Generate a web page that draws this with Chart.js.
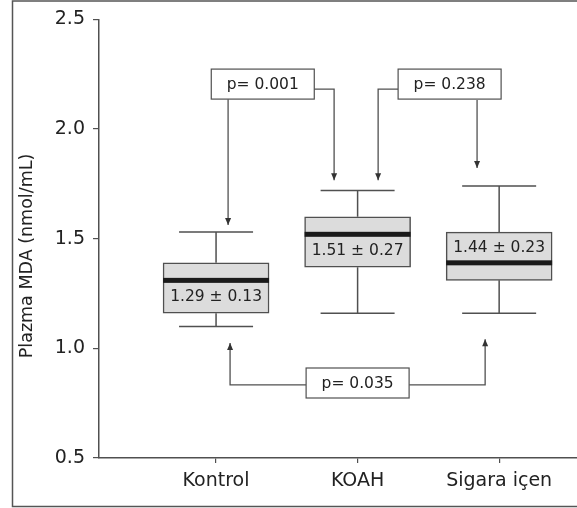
<!DOCTYPE html>
<html>
<head>
<meta charset="utf-8">
<script src="https://cdn.jsdelivr.net/npm/chart.js@4"></script>
<style>
  body { margin: 0; background: #fff; }
  #wrap { width: 577px; height: 508px; }
</style>
</head>
<body>
<div id="wrap"><canvas id="chart" width="577" height="508"></canvas></div>
<script>
// data
const categories = ['Kontrol', 'KOAH', 'Sigara içen'];
const whiskerLow = [1.10, 1.16, 1.16];
const q1 = [1.16, 1.37, 1.31];
const median = [1.31, 1.52, 1.39];
const q3 = [1.39, 1.60, 1.53];
const whiskerHigh = [1.53, 1.72, 1.74];
const meanSd = ['1.29 ± 0.13', '1.51 ± 0.27', '1.44 ± 0.23'];
const yTicks = [0.5, 1.0, 1.5, 2.0, 2.5];
const yTitle = 'Plazma MDA (nmol/mL)';

// p-value notes, positions in data units (x = category slot, y = value)
const pLabels = ['p= 0.001', 'p= 0.238', 'p= 0.035'];
const pCenters = [[1.33, 2.205], [2.65, 2.205], [2.0, 0.842]];
const pArrows = [
  [[1.085, 2.136], [1.085, 1.562]],
  [[1.692, 2.182], [1.834, 2.182], [1.834, 1.767]],
  [[2.286, 2.182], [2.145, 2.182], [2.145, 1.767]],
  [[2.844, 2.132], [2.844, 1.822]],
  [[1.636, 0.833], [1.099, 0.833], [1.099, 1.024]],
  [[2.364, 0.833], [2.901, 0.833], [2.901, 1.042]]
];

const FONT = "'DejaVu Sans', Verdana, sans-serif";
const LINE = '#505050';
const TEXT = '#222';
const BOX_W = 106;
const CAP_W = 74;

function arrowHead(ctx, x0, y0, x1, y1) {
  const a = Math.atan2(y1 - y0, x1 - x0);
  const len = 7, hw = 3;
  ctx.beginPath();
  ctx.moveTo(x1, y1);
  ctx.lineTo(x1 - len * Math.cos(a) + hw * Math.sin(a), y1 - len * Math.sin(a) - hw * Math.cos(a));
  ctx.lineTo(x1 - len * Math.cos(a) - hw * Math.sin(a), y1 - len * Math.sin(a) + hw * Math.cos(a));
  ctx.closePath();
  ctx.fill();
}

const boxExtras = {
  id: 'boxExtras',
  beforeDraw(chart) {
    // frame: open on the right side, like the cropped figure
    const ctx = chart.ctx;
    ctx.save();
    ctx.strokeStyle = '#555';
    ctx.lineWidth = 1.5;
    ctx.beginPath();
    ctx.moveTo(577, 1);
    ctx.lineTo(12.5, 1);
    ctx.lineTo(12.5, 506.5);
    ctx.lineTo(577, 506.5);
    ctx.stroke();
    ctx.restore();
  },
  afterDatasetsDraw(chart) {
    const ctx = chart.ctx;
    const x = chart.scales.x, y = chart.scales.y;
    ctx.save();

    categories.forEach((c, i) => {
      const px = x.getPixelForValue(i + 1);
      ctx.strokeStyle = LINE;
      ctx.lineWidth = 1.5;
      ctx.beginPath();
      ctx.moveTo(px, y.getPixelForValue(q3[i]));
      ctx.lineTo(px, y.getPixelForValue(whiskerHigh[i]));
      ctx.moveTo(px, y.getPixelForValue(q1[i]));
      ctx.lineTo(px, y.getPixelForValue(whiskerLow[i]));
      ctx.moveTo(px - CAP_W / 2, y.getPixelForValue(whiskerHigh[i]));
      ctx.lineTo(px + CAP_W / 2, y.getPixelForValue(whiskerHigh[i]));
      ctx.moveTo(px - CAP_W / 2, y.getPixelForValue(whiskerLow[i]));
      ctx.lineTo(px + CAP_W / 2, y.getPixelForValue(whiskerLow[i]));
      ctx.stroke();

      ctx.fillStyle = '#1a1a1a';
      ctx.fillRect(px - BOX_W / 2, y.getPixelForValue(median[i]) - 2.5, BOX_W, 5);

      // mean ± sd sits in the larger half of the box
      const lower = median[i] - q1[i], upper = q3[i] - median[i];
      const ly = lower >= upper ? (q1[i] + median[i]) / 2 : (median[i] + q3[i]) / 2;
      ctx.fillStyle = TEXT;
      ctx.font = '15.5px ' + FONT;
      ctx.textAlign = 'center';
      ctx.textBaseline = 'middle';
      ctx.fillText(meanSd[i], px, y.getPixelForValue(ly));
    });

    // arrows
    ctx.strokeStyle = LINE;
    ctx.fillStyle = '#333';
    ctx.lineWidth = 1.3;
    pArrows.forEach(pts => {
      const p = pts.map(d => [x.getPixelForValue(d[0]), y.getPixelForValue(d[1])]);
      ctx.beginPath();
      p.forEach((q, k) => k ? ctx.lineTo(q[0], q[1]) : ctx.moveTo(q[0], q[1]));
      ctx.stroke();
      const a = p[p.length - 2], b = p[p.length - 1];
      arrowHead(ctx, a[0], a[1], b[0], b[1]);
    });

    // p-value boxes
    pLabels.forEach((t, i) => {
      const cx = x.getPixelForValue(pCenters[i][0]);
      const cy = y.getPixelForValue(pCenters[i][1]);
      ctx.fillStyle = '#fff';
      ctx.fillRect(cx - 51.5, cy - 15, 103, 30);
      ctx.strokeStyle = LINE;
      ctx.lineWidth = 1.2;
      ctx.strokeRect(cx - 51.5, cy - 15, 103, 30);
      ctx.fillStyle = TEXT;
      ctx.font = '15.5px ' + FONT;
      ctx.textAlign = 'center';
      ctx.textBaseline = 'middle';
      ctx.fillText(t, cx, cy + 1);
    });

    // y axis title
    ctx.translate(27, 256);
    ctx.rotate(-Math.PI / 2);
    ctx.fillStyle = TEXT;
    ctx.font = '17.5px ' + FONT;
    ctx.textAlign = 'center';
    ctx.textBaseline = 'middle';
    ctx.fillText(yTitle, 0, 0);
    ctx.restore();
  }
};

new Chart(document.getElementById('chart'), {
  type: 'bar',
  data: {
    datasets: [{
      data: categories.map((c, i) => ({ x: i + 1, y: [q1[i], q3[i]] })),
      backgroundColor: '#dcdcdc',
      borderColor: LINE,
      borderWidth: 1.5,
      borderSkipped: false,
      barThickness: BOX_W
    }]
  },
  options: {
    responsive: false,
    animation: false,
    layout: { padding: { left: 0, top: 19, right: 0, bottom: 0 } },
    plugins: { legend: { display: false }, tooltip: { enabled: false } },
    scales: {
      x: {
        type: 'linear',
        bounds: 'data',
        offset: false,
        min: 0.173,
        max: 3.55,
        afterBuildTicks: s => { s.ticks = categories.map((c, i) => ({ value: i + 1 })); },
        afterFit: s => { s.height = 50; },
        grid: { drawOnChartArea: false, offset: false, tickLength: 5, color: LINE, lineWidth: 1.2 },
        border: { color: LINE, width: 1.5 },
        ticks: {
          callback: (v, i) => categories[i],
          font: { family: FONT, size: 19 },
          color: TEXT,
          padding: 7,
          maxRotation: 0,
          autoSkip: false
        }
      },
      y: {
        min: 0.5,
        max: 2.5,
        afterBuildTicks: s => { s.ticks = yTicks.map(v => ({ value: v })); },
        afterFit: s => { s.width = 99; },
        grid: { drawOnChartArea: false, tickLength: 6, color: LINE, lineWidth: 1.2 },
        border: { color: LINE, width: 1.5 },
        ticks: {
          callback: v => v.toFixed(1),
          font: { family: FONT, size: 19 },
          color: TEXT,
          padding: 8
        }
      }
    }
  },
  plugins: [boxExtras]
});
</script>
</body>
</html>
